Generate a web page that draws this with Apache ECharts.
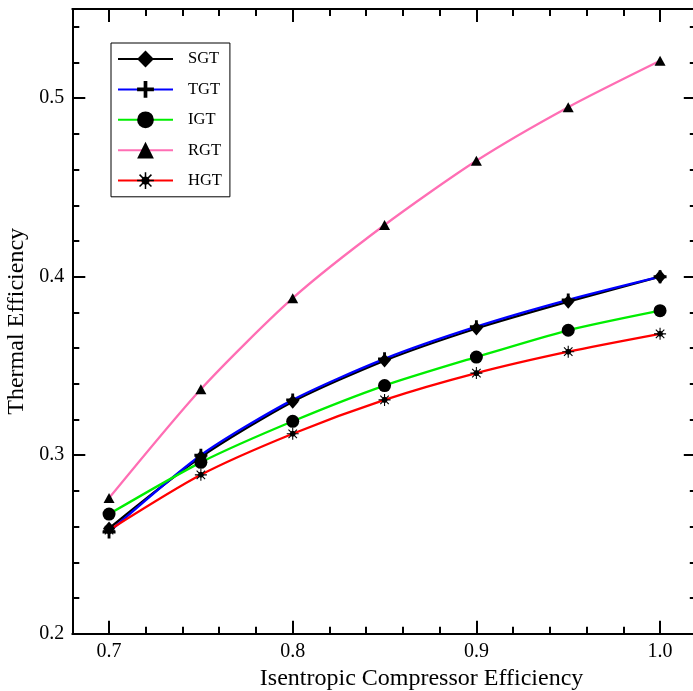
<!DOCTYPE html>
<html>
<head>
<meta charset="utf-8">
<script src="https://cdn.jsdelivr.net/npm/echarts@6/dist/echarts.min.js"></script>
<style>
  html, body { margin: 0; padding: 0; background: #fff; }
  #chart { width: 693px; height: 691px; }
</style>
</head>
<body>
<div id="chart"></div>
<script>
// Compressor isentropic efficiency (x) vs thermal efficiency of each cycle
const efficiency = [0.70, 0.75, 0.80, 0.85, 0.90, 0.95, 1.00];
const sgt = [0.259, 0.299, 0.330, 0.353, 0.371, 0.386, 0.400];
const tgt = [0.257, 0.300, 0.331, 0.354, 0.372, 0.387, 0.400];
const igt = [0.267, 0.296, 0.319, 0.339, 0.355, 0.370, 0.381];
const rgt = [0.276, 0.337, 0.388, 0.429, 0.465, 0.495, 0.521];
const hgt = [0.258, 0.289, 0.312, 0.331, 0.346, 0.358, 0.368];

const xMajorTicks = [0.7, 0.8, 0.9, 1.0];
const yMajorTicks = [0.2, 0.3, 0.4, 0.5];

// minor ticks: four between each pair of major ticks
function minorTicks(start, end, step, majorStep) {
  const out = [];
  for (let i = 0; start + i * step <= end + 1e-9; i++) {
    const v = +(start + i * step).toFixed(4);
    const r = v / majorStep;
    if (Math.abs(r - Math.round(r)) > 1e-6) out.push(v);
  }
  return out;
}
const xMinorTicks = minorTicks(0.70, 1.02, 0.02, 0.1);
const yMinorTicks = minorTicks(0.20, 0.55, 0.02, 0.1);

// plus marker
const plusPath = 'path://M-0.22,-1L0.22,-1L0.22,-0.22L1,-0.22L1,0.22L0.22,0.22L0.22,1L-0.22,1L-0.22,0.22L-1,0.22L-1,-0.22L-0.22,-0.22Z';

// asterisk marker: four thin bars plus a filled centre
function asteriskPath() {
  const w = 0.09;
  let d = '';
  [0, 45, 90, 135].forEach(function (deg) {
    const a = deg * Math.PI / 180, c = Math.cos(a), s = Math.sin(a);
    const pts = [[-1, -w], [1, -w], [1, w], [-1, w]].map(function (p) {
      return [(p[0] * c - p[1] * s).toFixed(3), (p[0] * s + p[1] * c).toFixed(3)];
    });
    d += 'M' + pts.map(function (p) { return p.join(','); }).join('L') + 'Z';
  });
  const r = 0.5;
  const oct = [];
  for (let k = 0; k < 8; k++) {
    const a = (k * 45 + 22.5) * Math.PI / 180;
    oct.push((r * Math.cos(a)).toFixed(3) + ',' + (r * Math.sin(a)).toFixed(3));
  }
  d += 'M' + oct.join('L') + 'Z';
  return 'path://' + d;
}

const FONT = 'Liberation Serif, Times New Roman, serif';
const X_MIN = 0.68, X_MAX = 1.02, Y_MIN = 0.2, Y_MAX = 0.55;

function pairs(ys) {
  return efficiency.map(function (x, i) { return [x, ys[i]]; });
}

function makeSeries(name, ys, color, symbol, size) {
  return {
    name: name,
    type: 'line',
    xAxisIndex: 0,
    yAxisIndex: 0,
    data: pairs(ys),
    smooth: 0.25,
    symbol: symbol,
    symbolSize: size,
    showAllSymbol: true,
    lineStyle: { color: color, width: 2.3 },
    itemStyle: { color: '#000', borderWidth: 0 },
    emphasis: { disabled: true },
    z: 3
  };
}

function xAxisDef(position, ticks, len, main) {
  return {
    type: 'value',
    gridIndex: 0,
    position: position,
    min: X_MIN,
    max: X_MAX,
    axisLine: { show: main, onZero: false, lineStyle: { color: '#000', width: 2 } },
    axisTick: { show: true, inside: true, length: len, customValues: ticks, lineStyle: { color: '#000', width: 2 } },
    axisLabel: { show: false },
    splitLine: { show: false }
  };
}

function yAxisDef(position, ticks, len, main) {
  return {
    type: 'value',
    gridIndex: 0,
    position: position,
    min: Y_MIN,
    max: Y_MAX,
    axisLine: { show: main, onZero: false, lineStyle: { color: '#000', width: 2 } },
    axisTick: { show: true, inside: true, length: len, customValues: ticks, lineStyle: { color: '#000', width: 2 } },
    axisLabel: { show: false },
    splitLine: { show: false }
  };
}

const xMain = xAxisDef('bottom', xMajorTicks, 13, true);
xMain.axisLabel = {
  show: true, customValues: xMajorTicks, margin: 8,
  color: '#000', fontFamily: FONT, fontSize: 20,
  formatter: function (v) { return v.toFixed(1); }
};
xMain.name = 'Isentropic Compressor Efficiency';
xMain.nameLocation = 'middle';
xMain.nameGap = 29;
xMain.nameTextStyle = { color: '#000', fontFamily: FONT, fontSize: 24, padding: [0, 0, 0, 74] };

const yMain = yAxisDef('left', yMajorTicks, 13, true);
yMain.axisLabel = {
  show: true, customValues: yMajorTicks, margin: 8,
  color: '#000', fontFamily: FONT, fontSize: 20,
  formatter: function (v) { return v.toFixed(1); }
};
yMain.name = 'Thermal Efficiency';
yMain.nameLocation = 'middle';
yMain.nameGap = 33;
yMain.nameTextStyle = { color: '#000', fontFamily: FONT, fontSize: 24 };

// the right-hand frame edge sits just past the canvas; only its ticks show
const yRight = yAxisDef('right', yMajorTicks, 13, false);

const option = {
  backgroundColor: '#fff',
  animation: false,
  grid: { left: 72.3, right: -3.8, top: 9, bottom: 57.3, containLabel: false, outerBoundsMode: 'none' },
  xAxis: [
    xMain,
    xAxisDef('bottom', xMinorTicks, 7, false),
    xAxisDef('top', xMajorTicks, 13, true),
    xAxisDef('top', xMinorTicks, 7, false)
  ],
  yAxis: [
    yMain,
    yAxisDef('left', yMinorTicks, 7, false),
    yRight,
    yAxisDef('right', yMinorTicks, 7, false)
  ],
  legend: {
    orient: 'vertical',
    left: 111,
    top: 43,
    padding: [7.5, 8, 7.7, 6],
    itemWidth: 55,
    itemHeight: 21,
    itemGap: 13.4,
    borderColor: '#000',
    borderWidth: 1,
    backgroundColor: '#fff',
    selectedMode: false,
    textStyle: { color: '#000', fontFamily: FONT, fontSize: 16.5, padding: [0, 0, 0, 10] }
  },
  series: [
    makeSeries('SGT', sgt, '#000000', 'diamond', [12, 14]),
    makeSeries('TGT', tgt, '#0000ff', plusPath, 13),
    makeSeries('IGT', igt, '#00ee00', 'circle', 13),
    makeSeries('RGT', rgt, '#ff6eb4', 'triangle', [11, 10]),
    makeSeries('HGT', hgt, '#ff0000', asteriskPath(), 12)
  ]
};

const chart = echarts.init(document.getElementById('chart'), null, { renderer: 'canvas' });
chart.setOption(option);
</script>
</body>
</html>
